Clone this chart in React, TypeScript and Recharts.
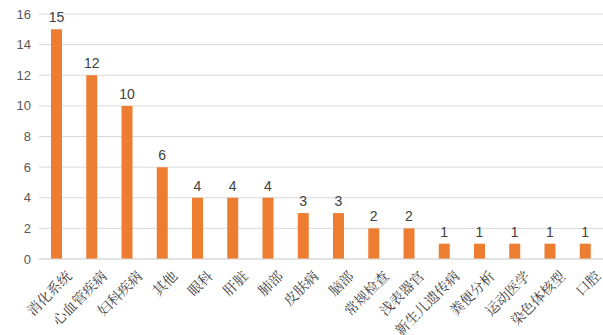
import React from 'react';
import { BarChart, Bar, XAxis, YAxis, CartesianGrid, LabelList } from 'recharts';

const categories = ['消化系统', '心血管疾病', '妇科疾病', '其他', '眼科', '肝脏', '肺部', '皮肤病', '脑部', '常规检查', '浅表器官', '新生儿遗传病', '粪便分析', '运动医学', '染色体核型', '口腔'];
const counts = [15, 12, 10, 6, 4, 4, 4, 3, 3, 2, 2, 1, 1, 1, 1, 1];
const yTicks = [0, 2, 4, 6, 8, 10, 12, 14, 16];

const data = categories.map((name, i) => ({ name, value: counts[i] }));

const RotatedTick = (props: any) => {
  const { x, y, payload } = props;
  const ax = x + 7;
  const ay = y + 1;
  return (
    <text
      x={ax}
      y={ay}
      transform={`rotate(-45, ${ax}, ${ay})`}
      textAnchor="end"
      dominantBaseline="hanging"
      fontSize={14}
      fill="#404040"
      fontFamily="'Noto Serif CJK SC', 'Noto Sans CJK SC', serif"
    >
      {payload.value}
    </text>
  );
};

export default function App() {
  return (
    <div style={{ position: 'absolute', left: 0, top: 0, width: 603, height: 335, background: '#fff' }}>
      <BarChart width={603} height={335} data={data} margin={{ top: 14, right: 0, bottom: 0, left: 0 }}>
        <CartesianGrid vertical={false} stroke="#d9d9d9" />
        <XAxis
          dataKey="name"
          interval={0}
          height={76}
          tickLine={false}
          axisLine={{ stroke: '#d9d9d9' }}
          tick={<RotatedTick />}
        />
        <YAxis
          width={39}
          domain={[0, 16]}
          ticks={yTicks}
          axisLine={false}
          tickLine={false}
          tick={{ fontSize: 13, fill: '#595959', fontFamily: "'Liberation Sans', Arial, sans-serif" }}
        />
        <Bar dataKey="value" fill="#ED7D31" barSize={11} isAnimationActive={false}>
          <LabelList
            dataKey="value"
            position="top"
            offset={7}
            style={{ fontSize: 14, fill: '#404040', fontFamily: "'Liberation Sans', Arial, sans-serif" }}
          />
        </Bar>
      </BarChart>
    </div>
  );
}
